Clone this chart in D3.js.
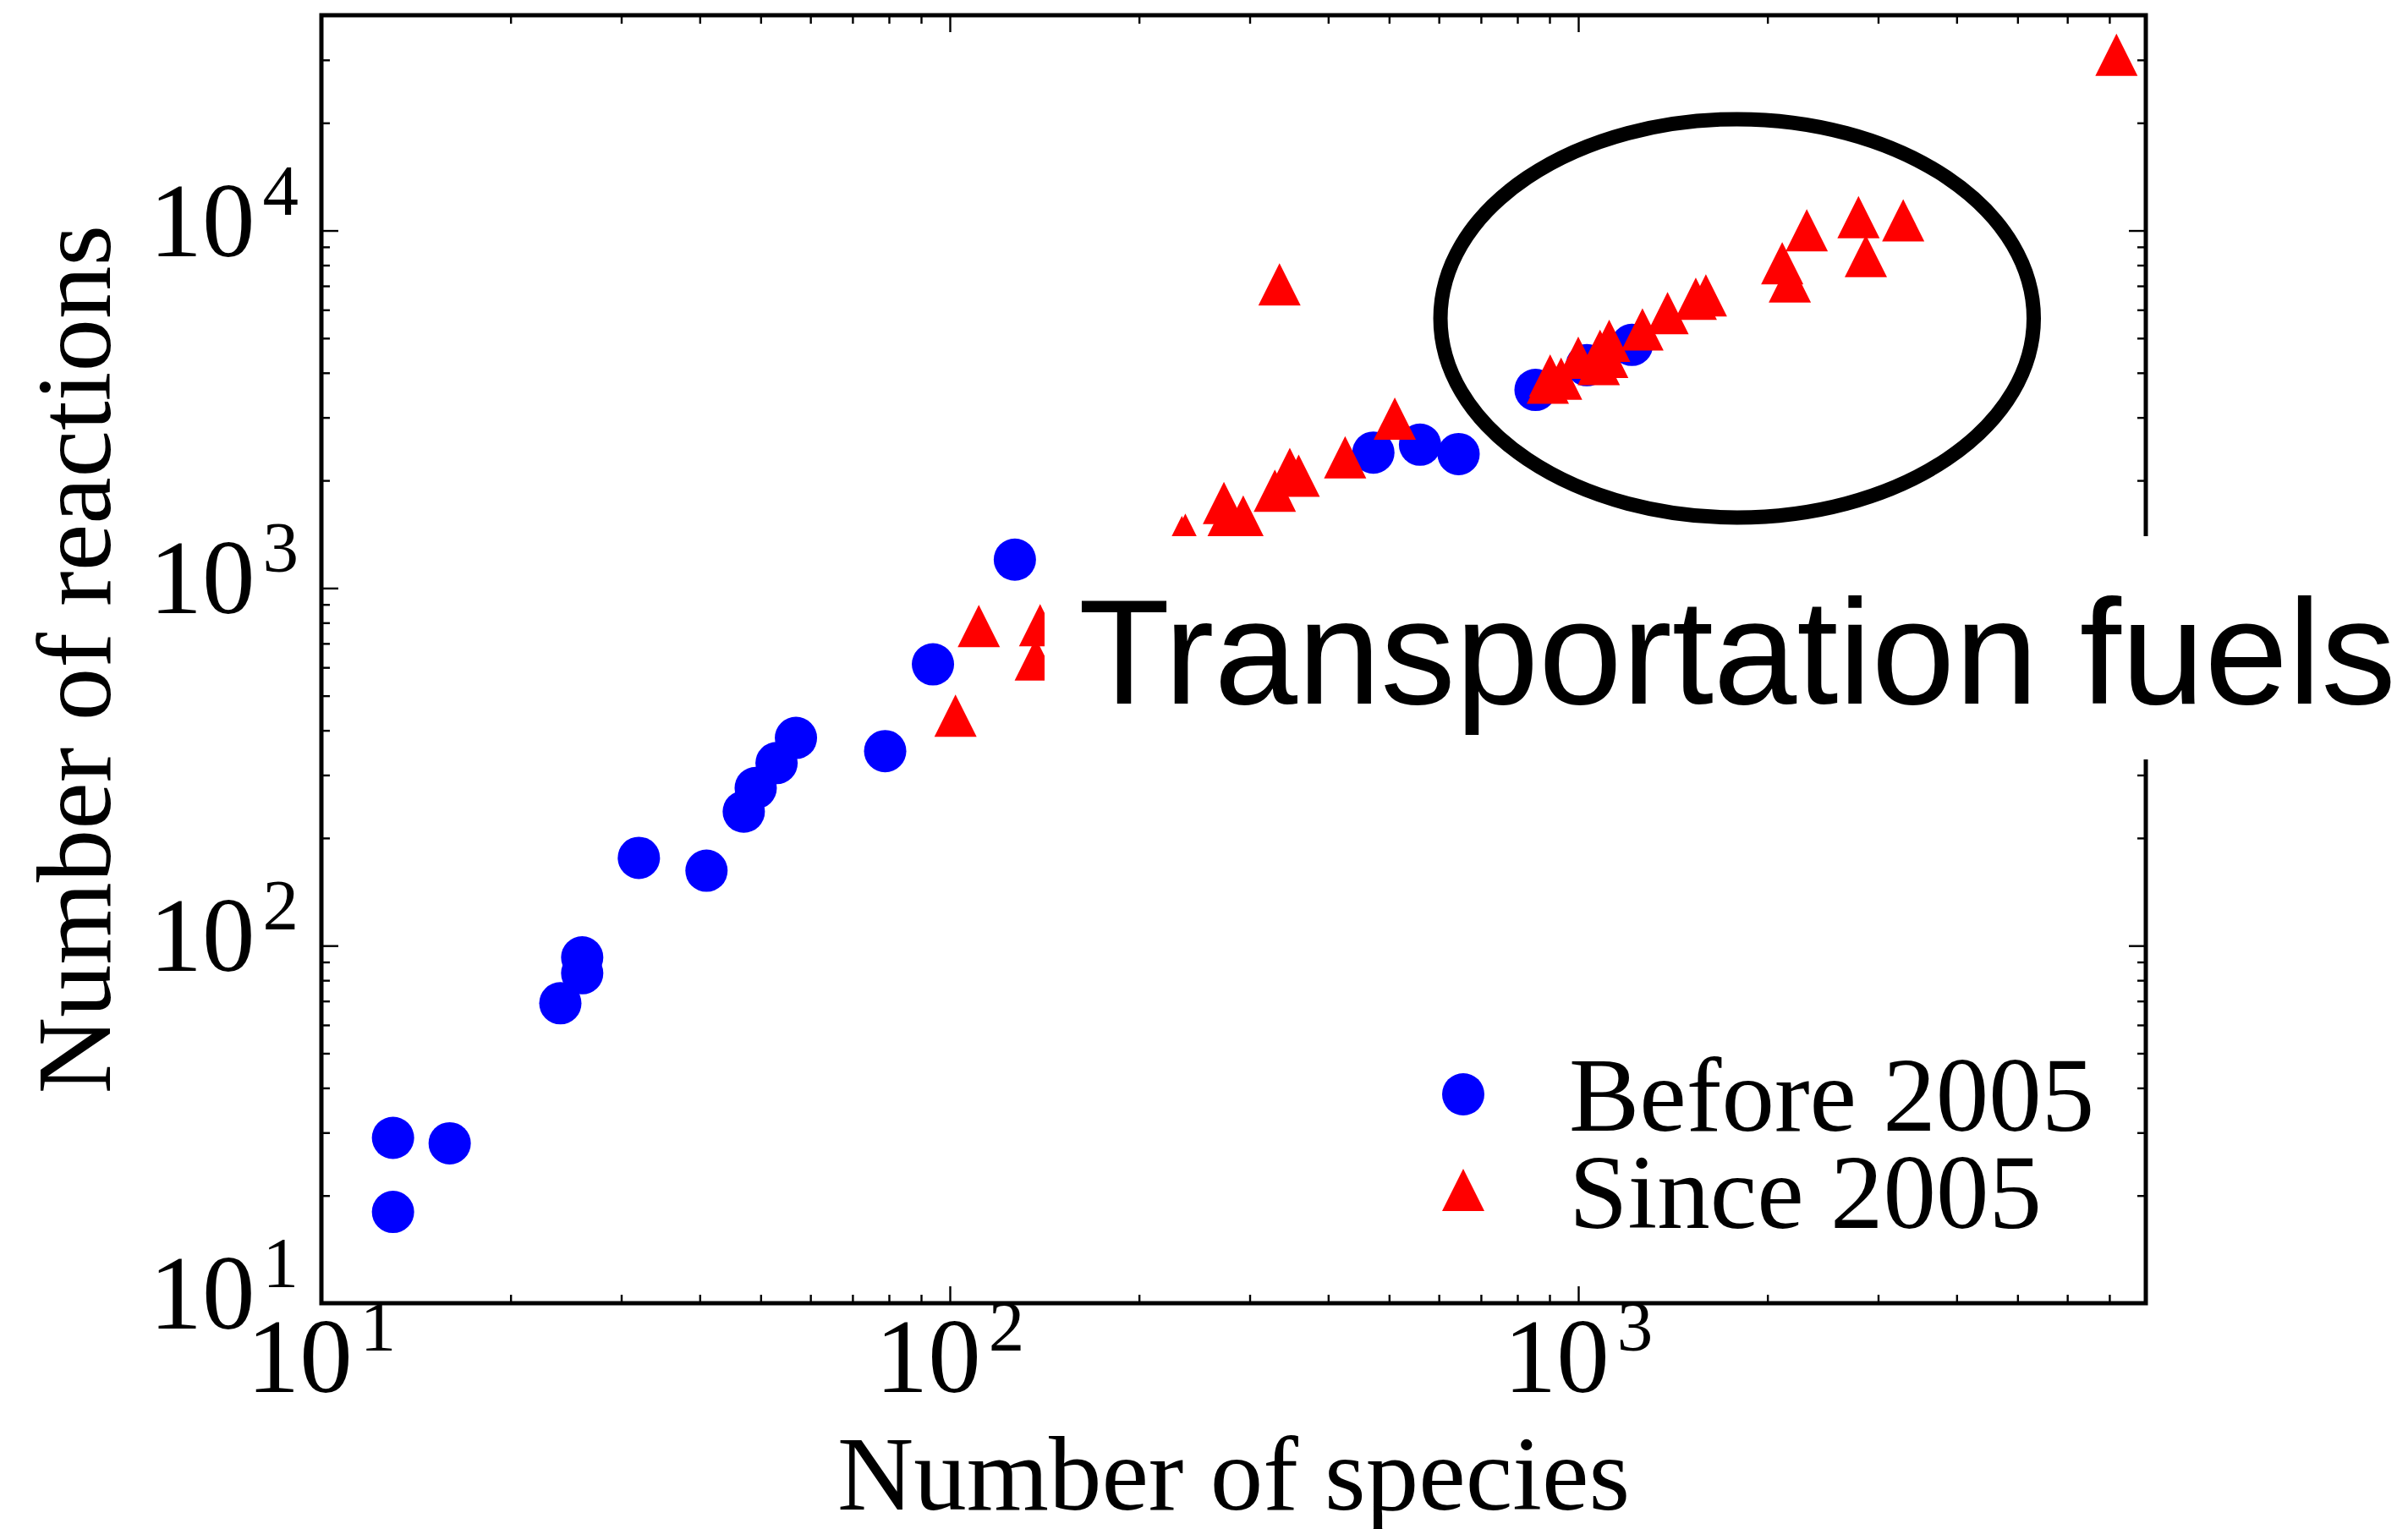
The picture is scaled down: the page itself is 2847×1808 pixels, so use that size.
<!DOCTYPE html>
<html>
<head>
<meta charset="utf-8">
<script src="https://cdn.jsdelivr.net/npm/d3@7"></script>
<style>
  html, body { margin: 0; padding: 0; background: #ffffff; }
  svg { display: block; }
</style>
</head>
<body>
<svg id="chart" width="2847" height="1808"></svg>
<script>
// Mechanism sizes: number of species vs number of reactions
const beforeSpecies   = [13.0, 13.0, 16.0, 24.0, 26.0, 26.0, 32.0, 41.0, 47.0, 49.1, 53.0, 56.9, 78.9, 94.0, 126.9, 472, 560, 645, 855, 1032, 1217];
const beforeReactions = [29.0, 18.0, 28.0, 69.0, 83.7, 92.7, 176, 162, 237, 276, 324, 381, 350, 612, 1201, 2393, 2518, 2370, 3583, 4201, 4786];

const sinceSpecies   = [102.1, 111.2, 139.2, 137.0, 237, 234, 273, 277, 293, 329, 347.5, 359, 334.6, 425.6, 510.5,
                        902, 894.5, 939, 1000, 1083, 1078, 1112, 1120, 1265, 1387, 1538, 1596, 2111, 2171, 2310, 2792, 3289, 2868, 7185];
const sinceReactions = [440, 783, 787, 632, 1410, 1390, 1729, 1586, 1586, 1873, 2154, 2062, 7073, 2321, 2978,
                        3929, 3754, 3852, 4405, 4607, 4229, 4429, 4918, 5287, 5876, 6446, 6587, 8096, 7209, 10012, 10897, 10686, 8484, 31010];

const seriesLabels = ["Before 2005", "Since 2005"];
const xTickValues = [10, 100, 1000];
const yTickValues = [10, 100, 1000, 10000];
const xDomain = [10, 8000];
const yDomain = [10, 40000];
const xTitle = "Number of species";
const yTitle = "Number of reactions";
const calloutText = "Transportation fuels";
// extent of the highlighted group, in data units: [xMin, xMax], [yMin, yMax]
const highlightX = [603.5, 5306];
const highlightY = [1575, 20480];

const W = 2847, H = 1808;
const margin = { left: 380, right: 310, top: 18, bottom: 267 };
const plotW = W - margin.left - margin.right;
const plotH = H - margin.top - margin.bottom;

const serif = "'Liberation Serif', 'Times New Roman', Times, serif";
const sans = "'Liberation Sans', Arial, Helvetica, sans-serif";

const svg = d3.select("#chart");
svg.append("rect").attr("width", W).attr("height", H).attr("fill", "#ffffff");

const x = d3.scaleLog().domain(xDomain).range([margin.left, margin.left + plotW]);
const y = d3.scaleLog().domain(yDomain).range([margin.top + plotH, margin.top]);

function minorTicks(domain, majors) {
  const out = [];
  majors.forEach(m => {
    for (let k = 2; k <= 9; k++) {
      const v = m * k;
      if (v > domain[0] && v < domain[1]) out.push(v);
    }
  });
  return out;
}
const xMinor = minorTicks(xDomain, xTickValues);
const yMinor = minorTicks(yDomain, yTickValues);

const majorLen = 20, minorLen = 10, tickW = 2.4;

function styleAxis(g) {
  g.select(".domain").remove();
  g.selectAll(".tick line").attr("stroke", "#000").attr("stroke-width", tickW);
  g.selectAll(".tick text").remove();
}

const axes = svg.append("g").attr("class", "axes");
const bottomY = margin.top + plotH, topY = margin.top;
const leftX = margin.left, rightX = margin.left + plotW;

// inward ticks on all four sides
[[xTickValues, majorLen], [xMinor, minorLen]].forEach(([vals, len]) => {
  axes.append("g").attr("transform", `translate(0,${bottomY})`)
    .call(d3.axisBottom(x).tickValues(vals).tickSize(-len).tickFormat("")).call(styleAxis);
  axes.append("g").attr("transform", `translate(0,${topY})`)
    .call(d3.axisTop(x).tickValues(vals).tickSize(-len).tickFormat("")).call(styleAxis);
});
[[yTickValues, majorLen], [yMinor, minorLen]].forEach(([vals, len]) => {
  axes.append("g").attr("transform", `translate(${leftX},0)`)
    .call(d3.axisLeft(y).tickValues(vals).tickSize(-len).tickFormat("")).call(styleAxis);
  axes.append("g").attr("transform", `translate(${rightX},0)`)
    .call(d3.axisRight(y).tickValues(vals).tickSize(-len).tickFormat("")).call(styleAxis);
});

// frame
axes.append("rect")
  .attr("x", leftX).attr("y", topY).attr("width", plotW).attr("height", plotH)
  .attr("fill", "none").attr("stroke", "#000").attr("stroke-width", 5);

// power-of-ten tick labels
function powerLabel(sel, v) {
  const e = Math.round(Math.log10(v));
  sel.append("tspan").text("10");
  sel.append("tspan").attr("dx", 9).attr("dy", -49).attr("font-size", 85).text(String(e));
}
const xLabels = svg.append("g").attr("font-family", serif).attr("font-size", 125).attr("fill", "#000");
xTickValues.forEach(v => {
  xLabels.append("text").attr("x", x(v)).attr("y", bottomY + 105)
    .attr("text-anchor", "middle").call(powerLabel, v);
});
const yLabels = svg.append("g").attr("font-family", serif).attr("font-size", 125).attr("fill", "#000");
yTickValues.forEach(v => {
  yLabels.append("text").attr("x", leftX - 27).attr("y", y(v) + 30)
    .attr("text-anchor", "end").call(powerLabel, v);
});

// axis titles
svg.append("text").attr("x", (leftX + rightX) / 2).attr("y", 1785)
  .attr("text-anchor", "middle").attr("font-family", serif).attr("font-size", 125)
  .text(xTitle);
svg.append("text")
  .attr("transform", `translate(130,${(topY + bottomY) / 2}) rotate(-90)`)
  .attr("text-anchor", "middle").attr("font-family", serif).attr("font-size", 125)
  .text(yTitle);

// markers
const markerSize = 50;
const half = markerSize / 2;
const triPath = `M0,${-half}L${-half},${half}L${half},${half}Z`;

const before = beforeSpecies.map((s, i) => ({ s, r: beforeReactions[i] }));
const since = sinceSpecies.map((s, i) => ({ s, r: sinceReactions[i] }));

svg.append("g").selectAll("circle").data(before).join("circle")
  .attr("cx", d => x(d.s)).attr("cy", d => y(d.r)).attr("r", half)
  .attr("fill", "#0000ff");

svg.append("g").selectAll("path").data(since).join("path")
  .attr("transform", d => `translate(${x(d.s)},${y(d.r)})`)
  .attr("d", triPath).attr("fill", "#ff0000");

// highlight ring around the large transportation-fuel mechanisms
const ex0 = x(highlightX[0]), ex1 = x(highlightX[1]);
const ey0 = y(highlightY[1]), ey1 = y(highlightY[0]);
svg.append("ellipse")
  .attr("cx", (ex0 + ex1) / 2).attr("cy", (ey0 + ey1) / 2)
  .attr("rx", (ex1 - ex0) / 2).attr("ry", (ey1 - ey0) / 2)
  .attr("fill", "none").attr("stroke", "#000").attr("stroke-width", 17);

// callout label on an opaque white box
svg.append("rect").attr("x", 1235).attr("y", 634).attr("width", W - 1235).attr("height", 264)
  .attr("fill", "#ffffff");
svg.append("text").attr("x", 1275).attr("y", 832)
  .attr("font-family", sans).attr("font-size", 177).attr("fill", "#000")
  .text(calloutText);

// legend
const legend = svg.append("g").attr("font-family", serif).attr("font-size", 125);
legend.append("circle").attr("cx", 1730).attr("cy", 1294).attr("r", half).attr("fill", "#0000ff");
legend.append("path").attr("transform", "translate(1730,1407)").attr("d", triPath).attr("fill", "#ff0000");
legend.append("text").attr("x", 1855).attr("y", 1337).text(seriesLabels[0]);
legend.append("text").attr("x", 1855).attr("y", 1452).text(seriesLabels[1]);
</script>
</body>
</html>
